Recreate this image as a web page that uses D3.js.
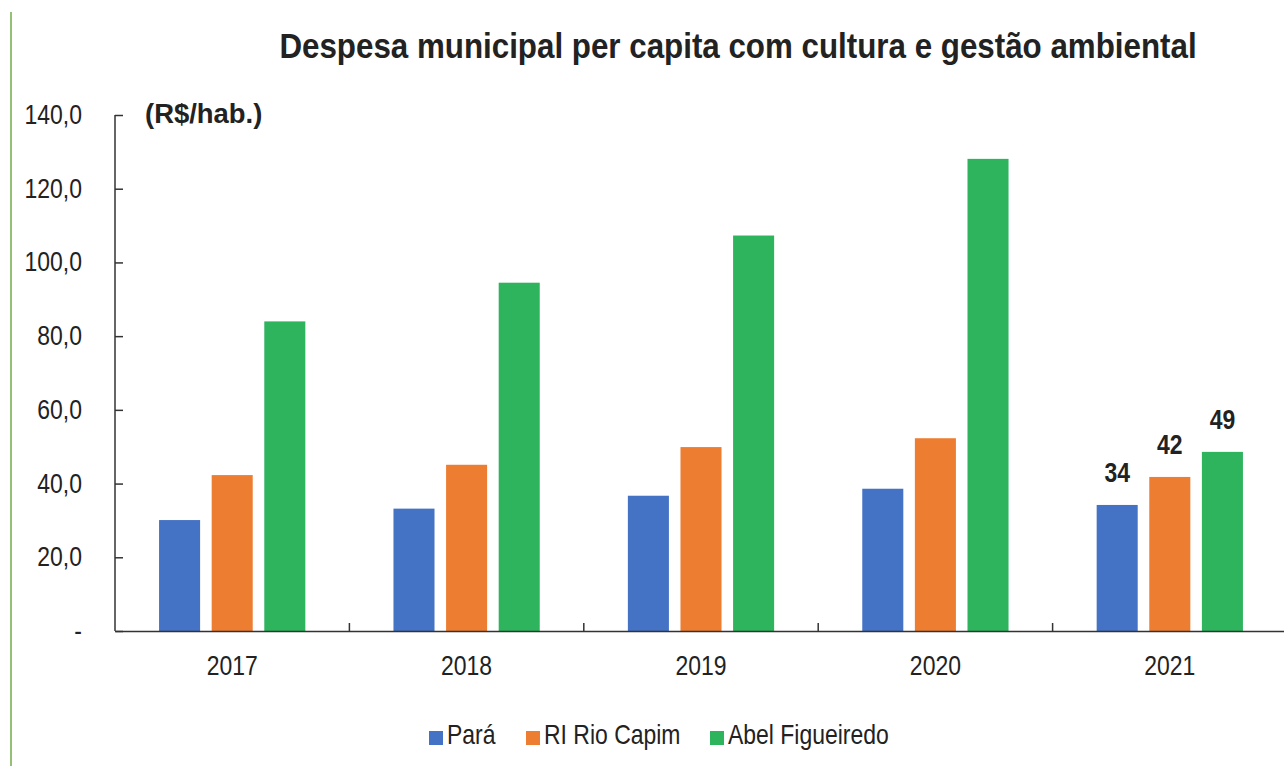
<!DOCTYPE html>
<html>
<head>
<meta charset="utf-8">
<script src="https://cdn.jsdelivr.net/npm/d3@7"></script>
<style>
  body { margin: 0; background: #fff; }
  svg text { font-family: "Liberation Sans", Arial, sans-serif; fill: #222; }
</style>
</head>
<body>
<div id="viz"></div>
<script>
// data
var years = ['2017', '2018', '2019', '2020', '2021'];
var series = ['Pará', 'RI Rio Capim', 'Abel Figueiredo'];
var para = [30.1, 33.2, 36.7, 38.6, 34.2];
var riCapim = [42.3, 45.1, 49.9, 52.3, 41.8];
var abel = [84.0, 94.5, 107.3, 128.1, 48.6];
var yTicks = [0, 20, 40, 60, 80, 100, 120, 140];
var labelYear = '2021';
var labels2021 = ['34', '42', '49'];

var colors = ['#4472C4', '#ED7D31', '#2DB45D'];
var values = [para, riCapim, abel];

var width = 1284, height = 766;
var margin = { left: 115, top: 115, bottom: 135 };
var narrow = 0.82;   // the original font is a condensed one

var svg = d3.select('#viz').append('svg')
    .attr('width', width)
    .attr('height', height);

// place text squeezed horizontally around its anchor point
function squeeze(x, y, sx) {
  return 'translate(' + x + ',' + y + ') scale(' + sx + ',1)';
}

// thin green line on the left edge
svg.append('line')
    .attr('x1', 11).attr('x2', 11)
    .attr('y1', 12).attr('y2', height)
    .attr('stroke', '#70AD47')
    .attr('stroke-width', 1.5);

var xScale = d3.scaleBand()
    .domain(years)
    .range([margin.left, margin.left + 5 * 234.4])
    .padding(0);

var inner = d3.scaleBand()
    .domain(series)
    .range([xScale.bandwidth() * 0.188, xScale.bandwidth() * 0.812])
    .paddingInner(0.22)
    .paddingOuter(0);

var yScale = d3.scaleLinear()
    .domain([0, 140])
    .range([height - margin.bottom, margin.top]);

// bars
var groups = svg.append('g').selectAll('g')
    .data(years)
    .enter().append('g')
      .attr('transform', function(d) { return 'translate(' + xScale(d) + ',0)'; });

groups.selectAll('rect')
    .data(function(d, i) {
      return series.map(function(s, j) { return { s: s, v: values[j][i], c: colors[j] }; });
    })
    .enter().append('rect')
      .attr('x', function(d) { return inner(d.s); })
      .attr('width', inner.bandwidth())
      .attr('y', function(d) { return yScale(d.v); })
      .attr('height', function(d) { return yScale(0) - yScale(d.v); })
      .attr('fill', function(d) { return d.c; });

// value labels on the last year
var yi = years.indexOf(labelYear);
svg.append('g').selectAll('text')
    .data(series)
    .enter().append('text')
      .attr('transform', function(d, j) {
        return squeeze(xScale(labelYear) + inner(d) + inner.bandwidth() / 2, yScale(values[j][yi]) - 23, narrow);
      })
      .attr('text-anchor', 'middle')
      .style('font-size', '28px')
      .style('font-weight', 'bold')
      .text(function(d, j) { return labels2021[j]; });

// y axis
var yAxis = d3.axisRight(yScale)
    .tickValues(yTicks)
    .tickSize(8)
    .tickFormat('');

var yGuide = svg.append('g')
    .attr('transform', 'translate(' + margin.left + ',0)')
    .call(yAxis);
yGuide.select('.domain').attr('stroke', '#333').attr('stroke-width', 1.5)
    .attr('d', 'M0,' + yScale(140) + 'V' + yScale(0));
yGuide.selectAll('.tick line').attr('stroke', '#333').attr('stroke-width', 1.5);

svg.append('g').selectAll('text')
    .data(yTicks)
    .enter().append('text')
      .attr('transform', function(d) { return squeeze(82, yScale(d) + 9, narrow); })
      .attr('text-anchor', 'end')
      .style('font-size', '28px')
      .text(function(d) { return d === 0 ? '-' : d3.format('.1f')(d).replace('.', ','); });

// x axis
var xAxis = d3.axisBottom(xScale).tickSize(0).tickFormat('');
var xGuide = svg.append('g')
    .attr('transform', 'translate(0,' + yScale(0) + ')')
    .call(xAxis);
xGuide.select('.domain').attr('stroke', '#333').attr('stroke-width', 1.5);

svg.append('g').selectAll('text')
    .data(years)
    .enter().append('text')
      .attr('transform', function(d) { return squeeze(xScale(d) + xScale.bandwidth() / 2, yScale(0) + 44, narrow); })
      .attr('text-anchor', 'middle')
      .style('font-size', '28px')
      .text(function(d) { return d; });

// small boundary ticks between categories
svg.append('g').selectAll('line')
    .data(years.slice(1))
    .enter().append('line')
      .attr('x1', function(d) { return xScale(d); })
      .attr('x2', function(d) { return xScale(d); })
      .attr('y1', yScale(0))
      .attr('y2', yScale(0) - 8)
      .attr('stroke', '#333')
      .attr('stroke-width', 1.5);

// title and unit
svg.append('text')
    .attr('transform', squeeze(738, 58, 0.895))
    .attr('text-anchor', 'middle')
    .style('font-size', '35px')
    .style('font-weight', 'bold')
    .text('Despesa municipal per capita com cultura e gestão ambiental');

svg.append('text')
    .attr('transform', squeeze(145, 123, 0.98))
    .style('font-size', '28px')
    .style('font-weight', 'bold')
    .text('(R$/hab.)');

// legend
var legendX = [429, 526, 710];
var legend = svg.append('g').selectAll('g')
    .data(series)
    .enter().append('g')
      .attr('transform', function(d, i) { return 'translate(' + legendX[i] + ',731)'; });

legend.append('rect')
    .attr('width', 14).attr('height', 14)
    .attr('fill', function(d, i) { return colors[i]; });

legend.append('text')
    .attr('transform', squeeze(18, 13, narrow))
    .style('font-size', '28px')
    .text(function(d) { return d; });
</script>
</body>
</html>
